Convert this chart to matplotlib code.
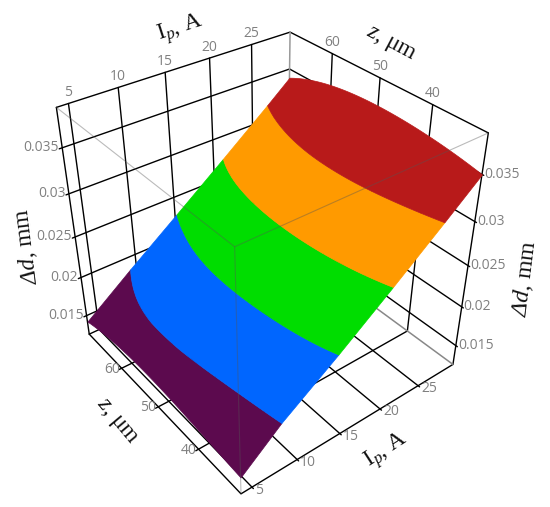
import numpy as np
import matplotlib
matplotlib.use('Agg')
from matplotlib import pyplot as plt
from mpl_toolkits.mplot3d import proj3d
from mpl_toolkits.mplot3d.art3d import Poly3DCollection

plt.rcParams['mathtext.fontset'] = 'custom'
plt.rcParams['mathtext.rm'] = 'Liberation Serif:italic'
plt.rcParams['mathtext.it'] = 'Liberation Serif:italic'

i_ticks = [5, 10, 15, 20, 25]
z_ticks = [40, 50, 60]
d_ticks = [0.015, 0.02, 0.025, 0.03, 0.035]
d_tick_labels = ['0.015', '0.02', '0.025', '0.03', '0.035']
i_lim = (3.83, 29.83)
z_lim = (30.44, 69.67)
d_lim = (0.01246, 0.03913)

# values
i_nodes = [3.83, 6.5, 9, 14, 19, 24, 29.83]
z_nodes = [30.44, 40, 50, 60, 69.67]
d_zmin = [0.0146, 0.0172, 0.0190, 0.0226, 0.0264, 0.0303, 0.0350]
d_z40 = [0.0151, 0.0178, 0.0198, 0.0237, 0.0275, 0.0314, 0.0359]
d_z50 = [0.0155, 0.0184, 0.0203, 0.0240, 0.0278, 0.0318, 0.0362]
d_z60 = [0.0153, 0.0182, 0.0200, 0.0235, 0.0273, 0.0312, 0.0357]
d_zmax = [0.0142, 0.0162, 0.0182, 0.0219, 0.0257, 0.0294, 0.0340]

band_levels = [0.0184, 0.0228, 0.0273, 0.0317]
band_colors = ['#5c0a4e', '#0066ff', '#00dd00', '#ff9a00', '#b81a1a']

TEXT_GREY = '#808080'
SERIF = 'Liberation Serif'


def band_curves():
    # position of each band edge along I, for a fine run of z
    table = np.array([d_zmin, d_z40, d_z50, d_z60, d_zmax])
    z_fine = np.linspace(z_lim[0], z_lim[1], 160)
    cols = np.array([np.polyval(np.polyfit(z_nodes, col, 4), z_fine) for col in table.T])
    curves = [(np.full(z_fine.shape, i_lim[0]), cols[0])]
    for level in band_levels:
        i_at = np.array([np.interp(level, cols[:, k], i_nodes) for k in range(z_fine.size)])
        curves.append((i_at, np.full(z_fine.shape, level)))
    curves.append((np.full(z_fine.shape, i_lim[1]), cols[-1]))
    return z_fine, curves


def line(ax, xs, ys, zs, color='black', lw=1.0, alpha=1.0, zorder=1):
    ax.plot(xs, ys, zs, color=color, lw=lw, alpha=alpha, zorder=zorder, solid_capstyle='round')


def draw_back(ax):
    i0, i1 = i_lim
    z0, z1 = z_lim
    d0, d1 = d_lim
    # walls and floor grid
    for v in i_ticks:
        line(ax, [v, v], [z1, z1], [d0, d1])
        line(ax, [v, v], [z0 - 0.3, z1], [d0, d0])
    for v in z_ticks:
        line(ax, [i1, i1], [v, v], [d0, d1])
        line(ax, [i0 - 0.3, i1], [v, v], [d0, d0])
    for v in d_ticks:
        line(ax, [i0 - 0.3, i1], [z1, z1], [v, v])
        line(ax, [i1, i1], [z0 - 0.3, z1], [v, v])
    # outer box
    line(ax, [i0, i1, i1], [z1, z1, z0], [d1, d1, d1])
    line(ax, [i0, i0], [z1, z1], [d0, d1])
    line(ax, [i1, i1], [z0, z0], [d0, d1])
    line(ax, [i0, i0, i1], [z1, z0, z0], [d0, d0, d0])
    line(ax, [i0, i1], [z1, z1], [d0, d0])
    # edges in grey
    line(ax, [i1, i1], [z1, z1], [d0, d1], color='#999999', lw=1.1)
    line(ax, [i1, i1], [z0, z1], [d0, d0], color='#888888', lw=1.1)


def draw_surface(ax):
    z_fine, curves = band_curves()
    for k, color in enumerate(band_colors):
        low_i, low_d = curves[k]
        high_i, high_d = curves[k + 1]
        xs = np.concatenate([low_i, high_i[::-1]])
        ys = np.concatenate([z_fine, z_fine[::-1]])
        zs = np.concatenate([low_d, high_d[::-1]])
        poly = Poly3DCollection([np.column_stack([xs, ys, zs])], facecolor=color, edgecolor=color,
                                linewidth=0.5, zorder=2 + k * 0.1)
        ax.add_collection3d(poly)


def draw_front(ax):
    i0, i1 = i_lim
    z0, z1 = z_lim
    d0, d1 = d_lim
    grey = '#555555'
    line(ax, [i0, i0, i1], [z1, z0, z0], [d1, d1, d1], color=grey, lw=0.8, alpha=0.4, zorder=3)
    line(ax, [i0, i0], [z0, z0], [d0, d1], color=grey, lw=0.8, alpha=0.4, zorder=3)


def tick_text(ax, x, y, z, text, dx, dy, ha):
    x2, y2, _ = proj3d.proj_transform(x, y, z, ax.get_proj())
    ax.annotate(text, xy=(x2, y2), xytext=(dx * 0.72, dy * 0.72), textcoords='offset points',
                ha=ha, va='center', color=TEXT_GREY, fontsize=10, family='Open Sans', zorder=5)


def draw_tick_labels(ax):
    i0, i1 = i_lim
    z0, z1 = z_lim
    d0, d1 = d_lim
    for v in i_ticks:
        tick_text(ax, v, z1, d1, str(v), 0, 11, 'center')
        tick_text(ax, v, z0, d0, str(v), 3, -3, 'left')
    for v in z_ticks:
        tick_text(ax, i1, v, d1, str(v), 0, 11, 'center')
        tick_text(ax, i0, v, d0, str(v), -2, -1, 'right')
    for v, lab in zip(d_ticks, d_tick_labels):
        tick_text(ax, i0, z1, v, lab, -3, 0, 'right')
        tick_text(ax, i1, z0, v, lab, 2, 0, 'left')


def axis_label(fig, px, py, text, rotation):
    fig.text(px / 550, 1 - py / 507, text, rotation=rotation, rotation_mode='anchor', ha='center',
             va='center', family=SERIF, fontsize=17, color='#111111')


def main():
    fig = plt.figure(figsize=(5.5, 5.07), dpi=100)
    ax = fig.add_axes([-0.02709, -0.03881, 1, 550 / 507], projection='3d')
    ax.computed_zorder = False
    ax.set_proj_type('persp', focal_length=0.32237)
    ax.view_init(35.85125, -127.90177, 0.04434)
    ax.set_box_aspect((1.00229, 1.00243, 1), zoom=0.85919)
    ax.set_xlim(i_lim[0], i_lim[1], view_margin=0)
    ax.set_ylim(z_lim[0], z_lim[1], view_margin=0)
    ax.set_zlim(d_lim[0], d_lim[1], view_margin=0)
    ax.set_axis_off()
    ax.apply_aspect()

    draw_back(ax)
    draw_surface(ax)
    draw_front(ax)
    draw_tick_labels(ax)

    axis_label(fig, 180, 29, r'I$_{\mathrm{p}}$, A', 18)
    axis_label(fig, 391, 44, r'$\mathrm{z}$, μm', -28)
    axis_label(fig, 26, 246, r'$\mathrm{\Delta d}$, mm', 97)
    axis_label(fig, 525, 278, r'$\mathrm{\Delta d}$, mm', 83)
    axis_label(fig, 116, 422, r'$\mathrm{z}$, μm', -50)
    axis_label(fig, 387, 451, r'I$_{\mathrm{p}}$, A', 33)

    fig.savefig('out.png', dpi=100)


if __name__ == '__main__':
    main()
